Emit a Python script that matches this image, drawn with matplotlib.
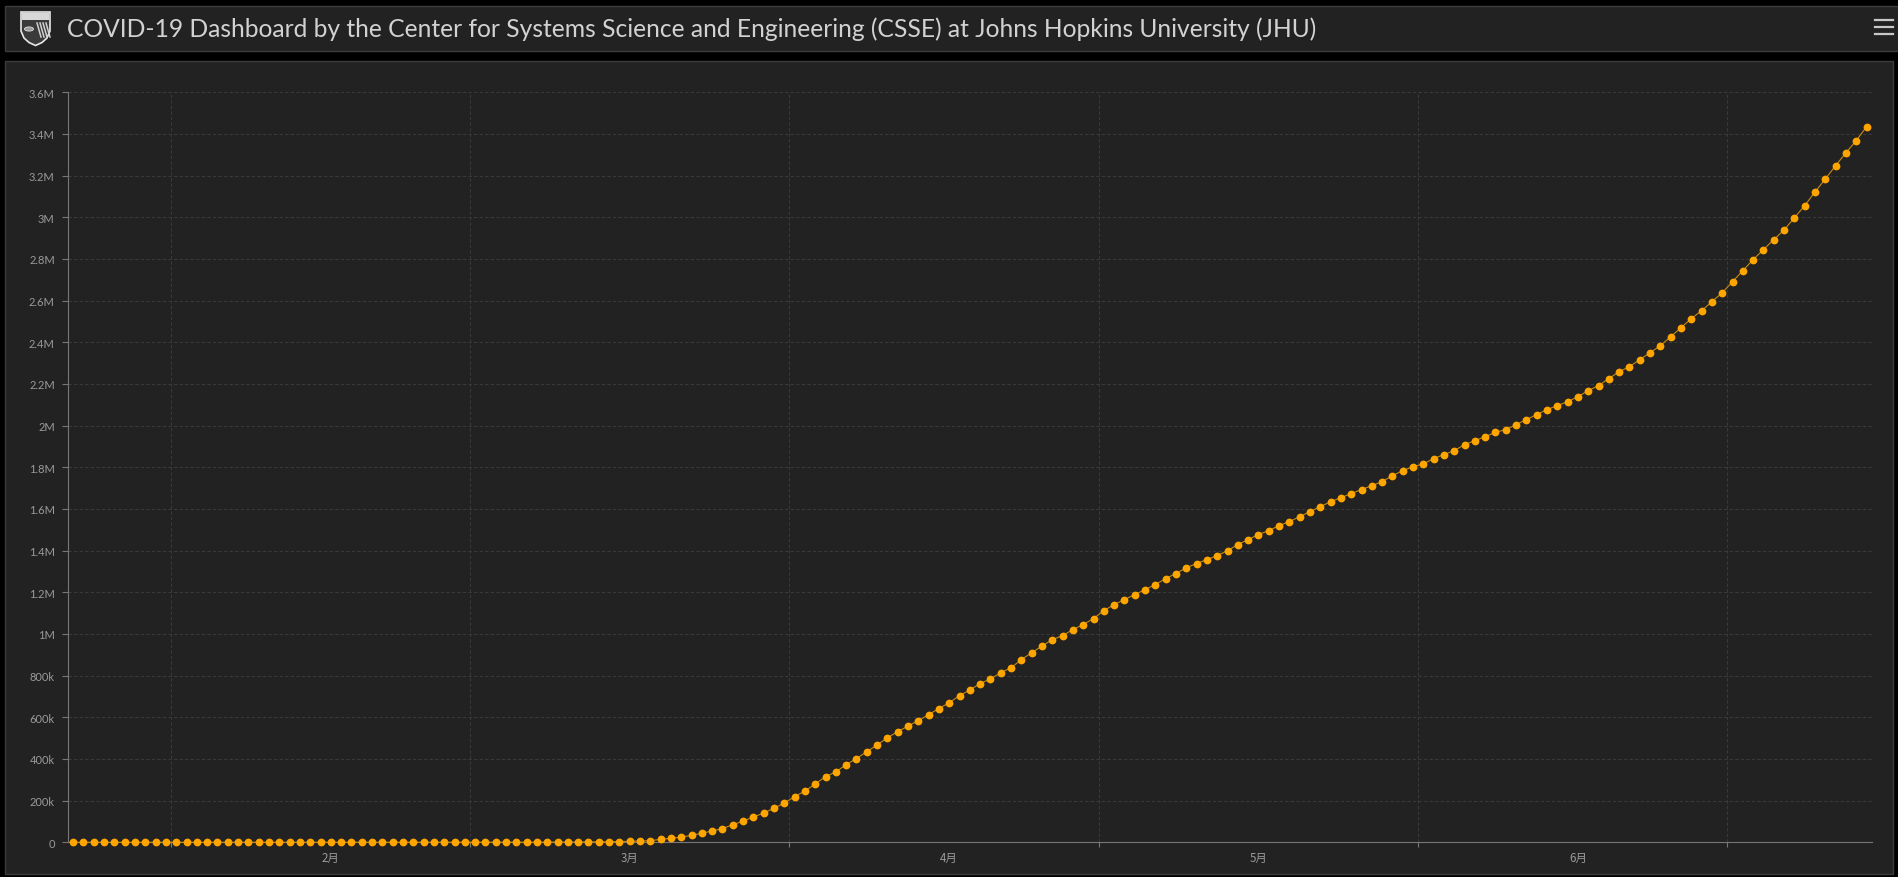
import matplotlib
matplotlib.use("Agg")
import matplotlib.pyplot as plt
import matplotlib.dates as mdates
from matplotlib.patches import Rectangle, Polygon, Circle
from matplotlib.lines import Line2D
from matplotlib.ticker import FuncFormatter, MultipleLocator, FixedLocator, FixedFormatter, NullFormatter
import pandas as pd

W, H = 1899, 878

title = "COVID-19 Dashboard by the Center for Systems Science and Engineering (CSSE) at Johns Hopkins University (JHU)"
month_labels = ["2月", "3月", "4月", "5月", "6月"]
first_day = "2020-01-22"

# cumulative confirmed cases, one value per day
jan = [1, 1, 2, 2, 5, 5, 5, 6, 6, 8]
feb = [8, 8, 11, 11, 11, 12, 12, 12, 12, 12, 13, 13, 14, 14, 14, 14, 14, 14, 14, 14,
       35, 35, 35, 53, 53, 59, 60, 62, 70]
mar = [76, 101, 122, 153, 221, 278, 417, 537, 605, 1000, 1300, 1700, 2200, 2700, 3500,
       4600, 6400, 7800, 14000, 19000, 25000, 33000, 44000, 54000, 66000, 84000,
       102000, 121000, 141000, 163000, 189000]
apr = [219000, 246000, 280000, 315000, 338000, 373000, 402000, 435000, 467000, 502000,
       531000, 558000, 584000, 613000, 642000, 670000, 704000, 731000, 762000, 784000,
       814000, 838000, 877000, 910000, 942000, 973000, 992000, 1021000, 1045000, 1074000]
may = [1112000, 1141000, 1165000, 1189000, 1213000, 1237000, 1266000, 1290000, 1318000,
       1338000, 1357000, 1376000, 1400000, 1429000, 1453000, 1477000, 1496000, 1520000,
       1539000, 1563000, 1587000, 1611000, 1635000, 1654000, 1674000, 1693000, 1712000,
       1731000, 1760000, 1784000, 1803000]
jun = [1816000, 1842000, 1861000, 1880000, 1909000, 1928000, 1947000, 1968000, 1981000,
       2005000, 2029000, 2053000, 2077000, 2096000, 2115000, 2139000, 2168000, 2192000,
       2226000, 2259000, 2283000, 2317000, 2350000, 2384000, 2427000, 2470000, 2514000,
       2552000, 2595000, 2638000]
jul = [2691000, 2744000, 2797000, 2845000, 2893000, 2939000, 2998000, 3056000, 3122000,
       3184000, 3248000, 3310000, 3368000, 3435000]

confirmed = jan + feb + mar + apr + may + jun + jul
days = pd.date_range(first_day + " 12:00", periods=len(confirmed), freq="D")

plt.rcParams["lines.scale_dashes"] = False

fig = plt.figure(figsize=(W / 100, H / 100), dpi=100, facecolor="black")


def fx(x):
    return x / W


def fy(y):
    return 1 - y / H


def box(x0, y0, x1, y1, fc, ec):
    fig.add_artist(Rectangle((fx(x0), fy(y1)), (x1 - x0) / W, (y1 - y0) / H,
                             transform=fig.transFigure, facecolor=fc, edgecolor=ec,
                             linewidth=1, zorder=-5))


# header bar and chart panel
box(5.5, 6.5, 1905, 52, "#222222", "#3c3c3c")
box(5.5, 62, 1893, 875, "#222222", "#3c3c3c")

# shield logo (rough)
shield = [(21, 13), (50, 13), (50, 32), (47, 39), (42, 43.5), (35.5, 46.5), (29, 43.5), (24, 39), (21, 32)]
fig.add_artist(Polygon([(fx(a), fy(b)) for a, b in shield], closed=True, transform=fig.transFigure,
                       facecolor="#3a3a3a", edgecolor="#e8e8e8", linewidth=1.2))
fig.add_artist(Rectangle((fx(22), fy(21)), 27 / W, 7 / H, transform=fig.transFigure,
                         facecolor="#d8d8d8", edgecolor="none"))
fig.add_artist(Circle((fx(29), fy(30)), 4.5 / W, transform=fig.transFigure,
                      facecolor="#9a9a9a", edgecolor="#e0e0e0", linewidth=0.6))
for k in range(4):
    fig.add_artist(Line2D([fx(37 + k * 3), fx(41 + k * 3)], [fy(24), fy(38)],
                          transform=fig.transFigure, color="#d0d0d0", lw=1.1))

fig.text(fx(67), fy(29.5), title, fontsize=17.7, color="#d2d2d2", va="center", ha="left",
         family="Lato")

for y in (21, 28, 35):
    fig.add_artist(Line2D([fx(1875), fx(1893)], [fy(y), fy(y)], transform=fig.transFigure,
                          color="#c8c8c8", lw=1.6))

ax = fig.add_axes([fx(68), fy(843.3), (1871.7 - 68) / W, (843.3 - 93.3) / H])
ax.patch.set_visible(False)

ax.plot(days, confirmed, color="#c98b10", lw=0.8, marker="o", ms=5.6,
        mfc="#ffa500", mec="#ffa500", mew=0, zorder=3, clip_on=False)

ax.set_xlim(pd.Timestamp(first_day), days[-1] + pd.Timedelta(hours=12))
ax.set_ylim(0, 3600000)

ax.yaxis.set_major_locator(MultipleLocator(200000))


def fmt(v, pos):
    if v == 0:
        return "0"
    if v < 1e6:
        return f"{v / 1e3:g}k"
    return f"{v / 1e6:g}M"


ax.yaxis.set_major_formatter(FuncFormatter(fmt))

ax.xaxis.set_major_locator(mdates.MonthLocator())
ax.xaxis.set_major_formatter(NullFormatter())
label_pos = [mdates.date2num(pd.Timestamp(2020, m, 16, 12)) for m in range(2, 7)]
ax.xaxis.set_minor_locator(FixedLocator(label_pos))
ax.xaxis.set_minor_formatter(FixedFormatter(month_labels))

ax.grid(True, which="major", color="#3a3a3a", lw=0.75, linestyle=(0, (2.4, 1.6)))

for s in ("top", "right"):
    ax.spines[s].set_visible(False)
for s in ("left", "bottom"):
    ax.spines[s].set_color("#777777")
    ax.spines[s].set_linewidth(0.8)

ax.tick_params(axis="y", which="major", length=4.5, width=0.8, color="#777777", pad=5,
               labelsize=8, labelcolor="#9a9a9a", labelfontfamily="Lato")
ax.tick_params(axis="x", which="major", length=3.5, width=0.8, color="#777777")
ax.tick_params(axis="x", which="minor", length=0, pad=6.5, labelsize=8.3, labelcolor="#9a9a9a",
               labelfontfamily="Noto Sans CJK JP")

fig.savefig("out.png", dpi=100, facecolor="black")
